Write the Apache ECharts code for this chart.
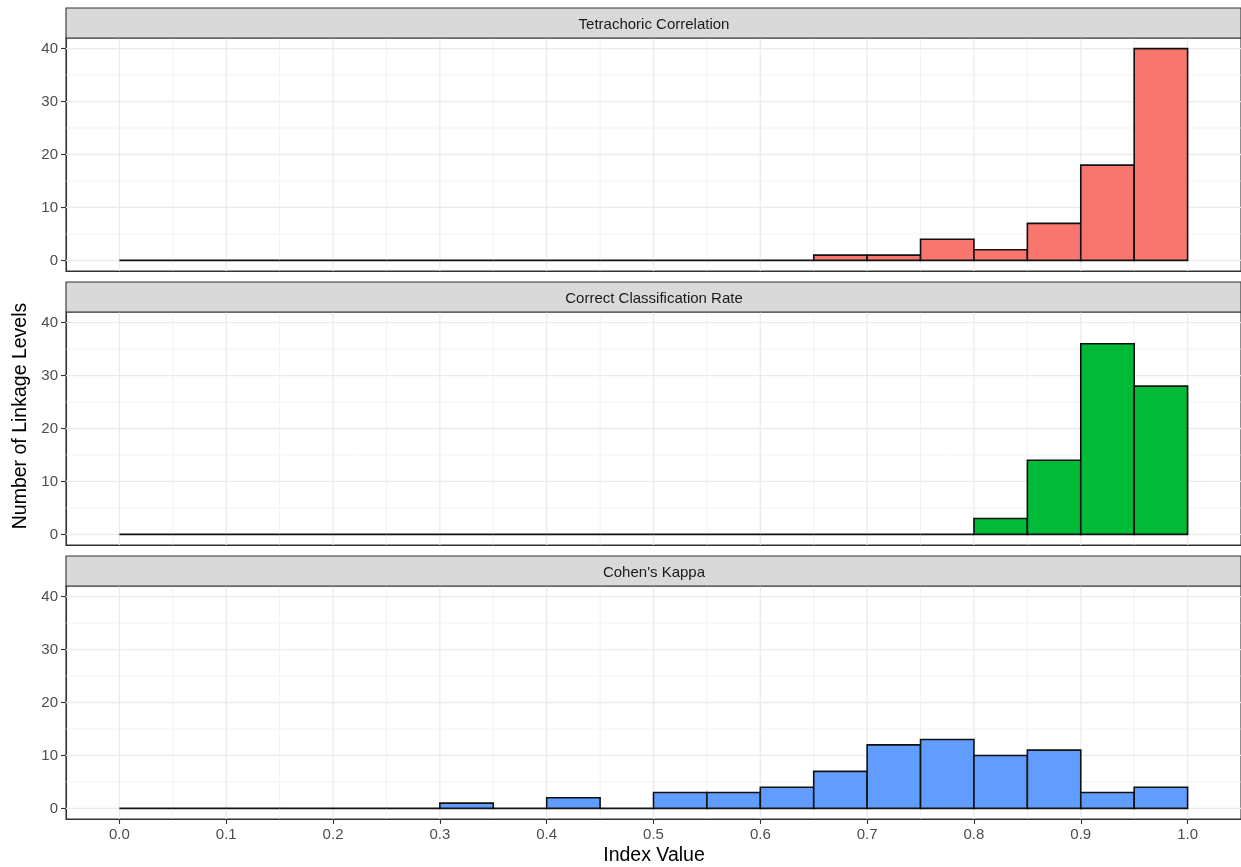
<!DOCTYPE html>
<html>
<head>
<meta charset="utf-8">
<title>Index Value Histograms</title>
<script src="https://cdn.jsdelivr.net/npm/echarts@6/dist/echarts.min.js"></script>
<style>
  html, body { margin: 0; padding: 0; background: #ffffff; }
  #chart { width: 1241px; height: 867px; }
</style>
</head>
<body>
<div id="chart"></div>
<script>
// Histogram bins: width 0.05 from 0.0 to 1.0 (20 bins)
const binWidth = 0.05;

// Panel titles (facet strips)
const panelTitles = ['Tetrachoric Correlation', 'Correct Classification Rate', "Cohen's Kappa"];

// Counts of linkage levels per bin, one array per index
const tetrachoricCounts = [0, 0, 0, 0, 0, 0, 0, 0, 0, 0, 0, 0, 0, 1, 1, 4, 2, 7, 18, 40];
const classificationCounts = [0, 0, 0, 0, 0, 0, 0, 0, 0, 0, 0, 0, 0, 0, 0, 0, 3, 14, 36, 28];
const kappaCounts = [0, 0, 0, 0, 0, 0, 1, 0, 2, 0, 3, 3, 4, 7, 12, 13, 10, 11, 3, 4];

const panelColors = ['#F8766D', '#00BA38', '#619CFF'];

// Axis breaks
const xTickValues = [0, 0.1, 0.2, 0.3, 0.4, 0.5, 0.6, 0.7, 0.8, 0.9, 1.0];
const xMinorValues = [0.05, 0.15, 0.25, 0.35, 0.45, 0.55, 0.65, 0.75, 0.85, 0.95];
const yTickValues = [0, 10, 20, 30, 40];
const yMinorValues = [5, 15, 25, 35];

const allCounts = [tetrachoricCounts, classificationCounts, kappaCounts];

// Layout of the three stacked panels
const panelLeft = 66;
const panelWidth = 1175;
const stripHeight = 30;
const panelHeight = 233;
const panelTops = [38, 312, 586];

const FONT = '"Liberation Sans", Arial, Helvetica, sans-serif';
const TICK_FONT_SIZE = 15;

const chart = echarts.init(document.getElementById('chart'), null, { renderer: 'canvas' });

const grids = [], xAxes = [], yAxes = [], series = [], graphics = [];

allCounts.forEach(function (counts, p) {
  const isBottom = p === allCounts.length - 1;
  grids.push({
    left: panelLeft, width: panelWidth, top: panelTops[p], height: panelHeight,
    show: true, borderColor: '#333333', borderWidth: 1.1, backgroundColor: '#ffffff'
  });
  xAxes.push({
    gridIndex: p, type: 'value', min: -0.05, max: 1.05,
    axisLine: { show: true, onZero: false, lineStyle: { color: '#333333', width: 1.1 } },
    axisTick: { show: isBottom, length: 5, lineStyle: { color: '#333333', width: 1.1 }, customValues: xTickValues },
    axisLabel: {
      show: isBottom, customValues: xTickValues, margin: 8,
      color: '#4D4D4D', fontSize: TICK_FONT_SIZE, fontFamily: FONT,
      formatter: function (v) { return v.toFixed(1); }
    },
    splitLine: { show: false }
  });
  yAxes.push({
    gridIndex: p, type: 'value', min: -2, max: 42,
    axisLine: { show: true, onZero: false, lineStyle: { color: '#333333', width: 1.1 } },
    axisTick: { show: true, length: 5, lineStyle: { color: '#333333', width: 1.1 }, customValues: yTickValues },
    axisLabel: { customValues: yTickValues, margin: 8, color: '#4D4D4D', fontSize: TICK_FONT_SIZE, fontFamily: FONT },
    splitLine: { show: false }
  });

  // panel grid lines (minor first, then major)
  const vLines = xMinorValues.map(function (v) { return [v, 0, 0]; })
    .concat(xTickValues.map(function (v) { return [v, 0, 1]; }));
  const hLines = yMinorValues.map(function (v) { return [0, v, 0]; })
    .concat(yTickValues.map(function (v) { return [0, v, 1]; }));

  series.push({
    type: 'custom', xAxisIndex: p, yAxisIndex: p, z: 1, silent: true,
    data: vLines,
    renderItem: function (params, api) {
      const cs = params.coordSys;
      const pt = api.coord([api.value(0), 0]);
      return {
        type: 'line', silent: true,
        shape: { x1: pt[0], y1: cs.y, x2: pt[0], y2: cs.y + cs.height },
        style: { stroke: '#EBEBEB', lineWidth: api.value(2) ? 1.3 : 0.65 }
      };
    }
  });
  series.push({
    type: 'custom', xAxisIndex: p, yAxisIndex: p, z: 1, silent: true,
    data: hLines,
    renderItem: function (params, api) {
      const cs = params.coordSys;
      const pt = api.coord([0, api.value(1)]);
      return {
        type: 'line', silent: true,
        shape: { x1: cs.x, y1: pt[1], x2: cs.x + cs.width, y2: pt[1] },
        style: { stroke: '#EBEBEB', lineWidth: api.value(2) ? 1.3 : 0.65 }
      };
    }
  });

  // histogram bars: [binStart, binEnd, count]
  const bins = counts.map(function (c, i) {
    return [i * binWidth, (i + 1) * binWidth, c];
  });
  series.push({
    type: 'custom', name: panelTitles[p], xAxisIndex: p, yAxisIndex: p, z: 3,
    encode: { x: [0, 1], y: 2 },
    data: bins,
    renderItem: function (params, api) {
      const start = api.coord([api.value(0), api.value(2)]);
      const end = api.coord([api.value(1), 0]);
      return {
        type: 'rect',
        shape: { x: start[0], y: start[1], width: end[0] - start[0], height: end[1] - start[1] },
        style: { fill: panelColors[p], stroke: '#111111', lineWidth: 1.6 }
      };
    }
  });

  // facet strip
  graphics.push({
    type: 'rect', silent: true, z: 10,
    shape: { x: panelLeft, y: panelTops[p] - stripHeight, width: panelWidth, height: stripHeight },
    style: { fill: '#D9D9D9', stroke: '#333333', lineWidth: 1.1 }
  });
  graphics.push({
    type: 'text', silent: true, z: 11,
    x: 654, y: panelTops[p] - stripHeight / 2 + 1.5,
    style: {
      text: panelTitles[p], fill: '#1A1A1A', font: TICK_FONT_SIZE + 'px ' + FONT,
      align: 'center', verticalAlign: 'middle'
    }
  });
});

// axis titles
graphics.push({
  type: 'text', silent: true, z: 11,
  x: 654, y: 856,
  style: { text: 'Index Value', fill: '#000000', font: '19.5px ' + FONT, align: 'center', verticalAlign: 'middle' }
});
graphics.push({
  type: 'text', silent: true, z: 11,
  x: 21, y: 416, rotation: Math.PI / 2,
  style: { text: 'Number of Linkage Levels', fill: '#000000', font: '19.5px ' + FONT, align: 'center', verticalAlign: 'middle' }
});

chart.setOption({
  animation: false,
  backgroundColor: '#ffffff',
  grid: grids,
  xAxis: xAxes,
  yAxis: yAxes,
  series: series,
  graphic: graphics
});
</script>
</body>
</html>
